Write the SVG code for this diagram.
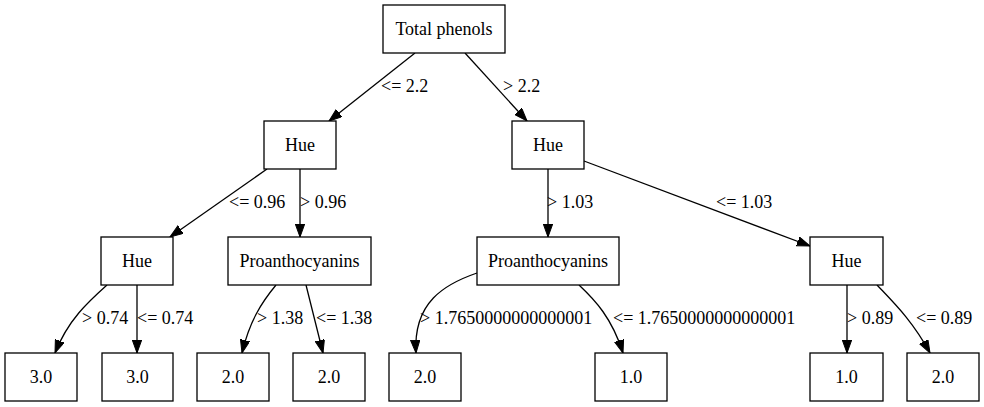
<svg xmlns="http://www.w3.org/2000/svg" width="984" height="407" viewBox="0 0 984 407">
<style>
.node rect{fill:#fff;stroke:#000;stroke-width:1.3}
text{font-family:'Liberation Serif','Times New Roman',Times,serif;font-size:18px;fill:#000}
.node text{text-anchor:middle}
.edges path{fill:none;stroke:#000;stroke-width:1.3;marker-end:url(#arr)}
.edges text{text-anchor:start}
</style>
<defs>
<marker id="arr" markerUnits="userSpaceOnUse" markerWidth="14" markerHeight="10" refX="13" refY="4.7" orient="auto" viewBox="0 0 14 10">
<path d="M0,0 L13,4.7 L0,9.4 z" fill="#000" stroke="#000" stroke-width="1"/>
</marker>
</defs>
<rect width="984" height="407" fill="#fff"/>
<g class="edges">
<path d="M415,53 L329,121"/>
<text x="381" y="92">&lt;= 2.2</text>
<path d="M465,53 L527,121"/>
<text x="503" y="92">&gt; 2.2</text>
<path d="M267,169 L170,237"/>
<text x="229" y="208">&lt;= 0.96</text>
<path d="M300,169 L300,237"/>
<text x="300" y="208">&gt; 0.96</text>
<path d="M548,169 L548,237"/>
<text x="547" y="208">&gt; 1.03</text>
<path d="M584,161 L810,246"/>
<text x="716" y="208">&lt;= 1.03</text>
<path d="M107,285 C88,302 68,320 55,353"/>
<text x="82" y="324">&gt; 0.74</text>
<path d="M137,285 L137,353"/>
<text x="137" y="324">&lt;= 0.74</text>
<path d="M276,285 C262,302 250,320 242,353"/>
<text x="257" y="324">&gt; 1.38</text>
<path d="M306,285 L323,353"/>
<text x="316" y="324">&lt;= 1.38</text>
<path d="M477,273 C445,284 413,302 416,353"/>
<text x="420" y="324">&gt; 1.7650000000000001</text>
<path d="M579,285 C595,300 612,318 623,353"/>
<text x="613" y="324">&lt;= 1.7650000000000001</text>
<path d="M847,285 L847,353"/>
<text x="847" y="324">&gt; 0.89</text>
<path d="M877,285 C893,302 912,320 930,353"/>
<text x="916" y="324">&lt;= 0.89</text>
</g>
<g id="n0" class="node"><rect x="383" y="5" width="122" height="48"/><text x="444" y="35">Total phenols</text></g>
<g id="n1" class="node"><rect x="264" y="121" width="72" height="48"/><text x="300" y="151">Hue</text></g>
<g id="n2" class="node"><rect x="512" y="121" width="72" height="48"/><text x="548" y="151">Hue</text></g>
<g id="n3" class="node"><rect x="101" y="237" width="72" height="48"/><text x="137" y="267">Hue</text></g>
<g id="n4" class="node"><rect x="228" y="237" width="143" height="48"/><text x="299.5" y="267">Proanthocyanins</text></g>
<g id="n5" class="node"><rect x="477" y="237" width="142" height="48"/><text x="548" y="267">Proanthocyanins</text></g>
<g id="n6" class="node"><rect x="810" y="237" width="73" height="48"/><text x="846.5" y="267">Hue</text></g>
<g id="n7" class="node"><rect x="5" y="353" width="72" height="48"/><text x="41" y="383">3.0</text></g>
<g id="n8" class="node"><rect x="102" y="353" width="71" height="48"/><text x="137.5" y="383">3.0</text></g>
<g id="n9" class="node"><rect x="197" y="353" width="72" height="48"/><text x="233" y="383">2.0</text></g>
<g id="n10" class="node"><rect x="293" y="353" width="72" height="48"/><text x="329" y="383">2.0</text></g>
<g id="n11" class="node"><rect x="389" y="353" width="72" height="48"/><text x="425" y="383">2.0</text></g>
<g id="n12" class="node"><rect x="595" y="353" width="72" height="48"/><text x="631" y="383">1.0</text></g>
<g id="n13" class="node"><rect x="810" y="353" width="73" height="48"/><text x="846.5" y="383">1.0</text></g>
<g id="n14" class="node"><rect x="907" y="353" width="72" height="48"/><text x="943" y="383">2.0</text></g>
</svg>
